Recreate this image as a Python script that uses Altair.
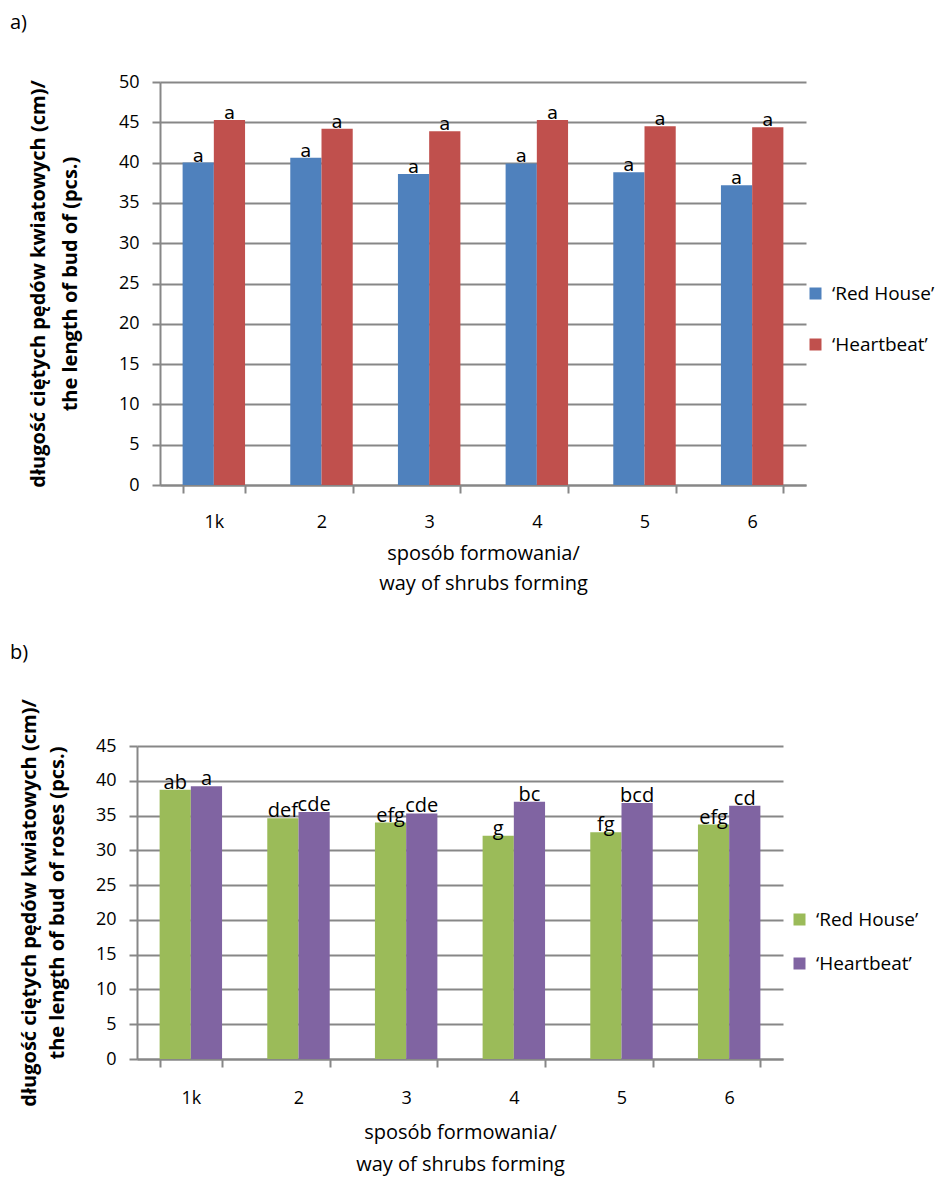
import altair as alt
import pandas as pd

categories = ["1k", "2", "3", "4", "5", "6"]
cultivars = ["‘Red House’", "‘Heartbeat’"]

a_red_house = [40.0, 40.6, 38.6, 39.9, 38.8, 37.2]
a_heartbeat = [45.3, 44.2, 43.9, 45.3, 44.5, 44.4]
a_rh_letters = ["a", "a", "a", "a", "a", "a"]
a_hb_letters = ["a", "a", "a", "a", "a", "a"]

b_red_house = [38.7, 34.6, 34.0, 32.1, 32.6, 33.7]
b_heartbeat = [39.2, 35.5, 35.3, 37.0, 36.8, 36.4]
b_rh_letters = ["ab", "def", "efg", "g", "fg", "efg"]
b_hb_letters = ["a", "cde", "cde", "bc", "bcd", "cd"]

a_colors = ["#4F81BD", "#C0504D"]
b_colors = ["#9BBB59", "#8064A2"]

x_title = ["sposób formowania/", "way of shrubs forming"]
a_y_title = ["długość ciętych pędów kwiatowych (cm)/", "the length of bud of (pcs.)"]
b_y_title = ["długość ciętych pędów kwiatowych (cm)/", "the length of bud of roses (pcs.)"]

GRID = "#878787"
FONT = "Open Sans"


def make_df(rh, hb, rh_l, hb_l):
    rows = []
    for i, c in enumerate(categories):
        rows.append({"category": c, "cultivar": cultivars[0], "value": rh[i], "letter": rh_l[i]})
        rows.append({"category": c, "cultivar": cultivars[1], "value": hb[i], "letter": hb_l[i]})
    return pd.DataFrame(rows)


def panel(df, colors, ymax, ytitle, label, shift, plot_w, height, legend_x, legend_y,
          title_offset, y_title_pad, y_line_h, y_title_size,
          x_label_pad, x_title_pad, x_line_h, row_pad, text_font, text_size, text_dy):
    width = plot_w + shift
    base = alt.Chart(df).encode(
        x=alt.X(
            "category:N",
            sort=categories,
            scale=alt.Scale(range=[shift, width], paddingInner=0.42, paddingOuter=0.21),
            axis=alt.Axis(
                title=x_title,
                labelAngle=0,
                tickBand="extent",
                grid=False,
                domainColor=GRID,
                domainWidth=2,
                tickColor=GRID,
                tickWidth=2,
                tickSize=8,
                labelFont=FONT,
                labelFontSize=18,
                labelColor="#000000",
                labelPadding=x_label_pad,
                titleFont=FONT,
                titleFontSize=20,
                titleFontWeight="normal",
                titleColor="#000000",
                titlePadding=x_title_pad,
                titleLineHeight=x_line_h,
            ),
        ),
        xOffset=alt.XOffset("cultivar:N", sort=cultivars,
                            scale=alt.Scale(paddingInner=0, paddingOuter=0)),
        y=alt.Y(
            "value:Q",
            scale=alt.Scale(domain=[0, ymax], nice=False),
            axis=alt.Axis(
                title=ytitle,
                values=list(range(0, ymax + 1, 5)),
                offset=-shift,
                grid=True,
                gridColor=GRID,
                gridWidth=2,
                domainColor=GRID,
                domainWidth=2,
                tickColor=GRID,
                tickWidth=2,
                tickSize=8,
                labelFont=FONT,
                labelFontSize=18,
                labelColor="#000000",
                labelPadding=13,
                titleFont=FONT,
                titleFontSize=y_title_size,
                titleFontWeight="bold",
                titleColor="#000000",
                titlePadding=y_title_pad,
                titleLineHeight=y_line_h,
            ),
        ),
    )
    bars = base.mark_bar().encode(
        color=alt.Color(
            "cultivar:N",
            sort=cultivars,
            scale=alt.Scale(domain=cultivars, range=colors),
            legend=alt.Legend(
                title=None,
                orient="none",
                legendX=legend_x,
                legendY=legend_y,
                symbolType="square",
                symbolSize=144,
                symbolStrokeWidth=0,
                labelFont=FONT,
                labelFontSize=19,
                labelColor="#000000",
                rowPadding=row_pad,
                labelOffset=7,
            ),
        )
    )
    text = base.mark_text(baseline="alphabetic", dy=text_dy, font=text_font,
                          fontSize=text_size, color="#000000").encode(text="letter:N")
    return alt.layer(bars, text).properties(
        width=width,
        height=height,
        title=alt.TitleParams(label, anchor="start", frame="group", dx=-127,
                              fontSize=20, fontWeight="normal", font=FONT,
                              color="#000000", offset=title_offset),
    )


chart_a = panel(make_df(a_red_house, a_heartbeat, a_rh_letters, a_hb_letters),
                a_colors, 50, a_y_title, "a)", 23, 646, 403, 669, 202,
                40, 38, 32, 20, 20, 12, 30, 31, "DejaVu Sans", 18, -1)
chart_b = panel(make_df(b_red_house, b_heartbeat, b_rh_letters, b_hb_letters),
                b_colors, 45, b_y_title, "b)", 0, 646, 313, 653, 164,
                36, 28, 28, 20, 22, 15, 32, 24, FONT, 20, -1)

chart = alt.concat(chart_a, chart_b, columns=1, spacing=49).properties(
    padding={"left": 2, "top": 5, "right": 0, "bottom": 10}
).resolve_scale(color="independent").configure_view(strokeOpacity=0)

chart.save("out.html", embed_options={"renderer": "svg", "actions": False})
